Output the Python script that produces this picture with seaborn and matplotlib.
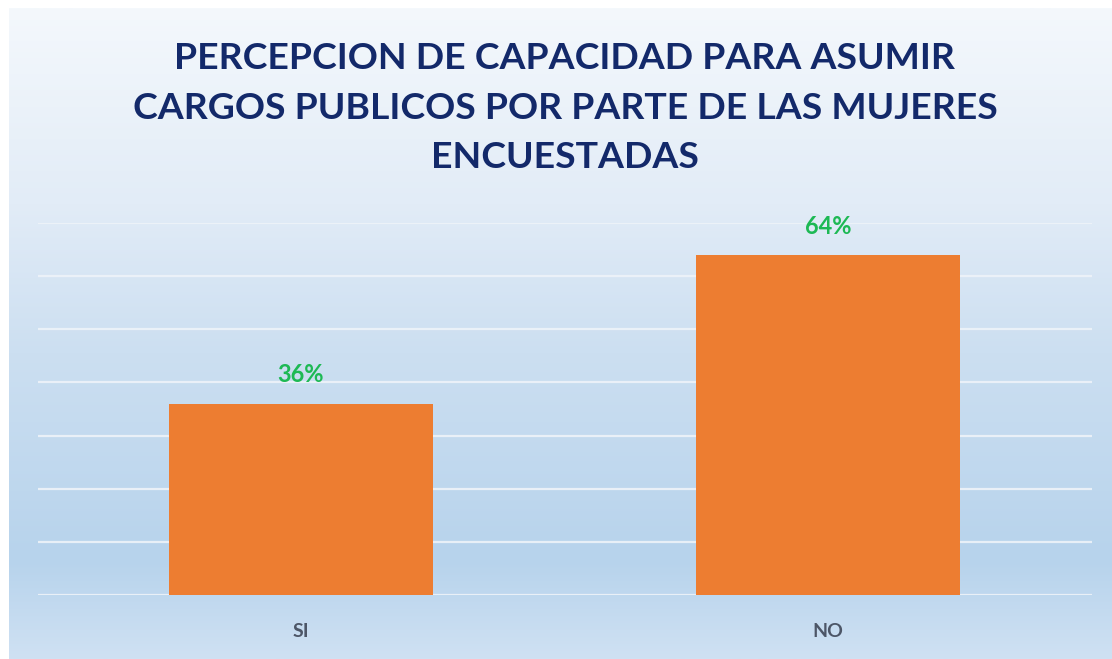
import numpy as np
import pandas as pd
import seaborn as sns
import matplotlib.pyplot as plt
from matplotlib.colors import LinearSegmentedColormap

# data
categories = ["SI", "NO"]
values = [0.36, 0.64]
labels = ["36%", "64%"]

title = "PERCEPCION DE CAPACIDAD PARA ASUMIR\nCARGOS PUBLICOS POR PARTE DE LAS MUJERES\nENCUESTADAS"

sns.set_theme(style="white")
plt.rcParams['font.family'] = ['Lato', 'DejaVu Sans']

df = pd.DataFrame({"respuesta": categories, "valor": values})

fig = plt.figure(figsize=(11.12, 6.59), dpi=100)
fig.patch.set_facecolor("white")

# gradient background like the Excel chart area
bg = fig.add_axes([9 / 1112, 0, 1 - 9 / 1112, 651 / 659], zorder=0)
grad_cmap = LinearSegmentedColormap.from_list(
    "bg",
    [(0.0, "#F4F8FC"), (0.30, "#E2ECF7"), (0.53, "#CCDFF1"),
     (0.85, "#B7D3EC"), (1.0, "#CFE1F3")])
bg.imshow(np.linspace(0, 1, 256).reshape(-1, 1), aspect="auto", cmap=grad_cmap,
          extent=[0, 1, 0, 1])
bg.axis("off")

ax = fig.add_axes([37.5 / 1112, 64 / 659, 1054 / 1112, 372 / 659], zorder=1)
ax.patch.set_alpha(0)

sns.barplot(data=df, x="respuesta", y="valor", color="#ED7D31", width=0.5,
            saturation=1, linewidth=0, ax=ax, zorder=3)

ax.set_ylim(0, 0.7)
ax.set_yticks(np.arange(0, 0.71, 0.1))
ax.yaxis.grid(True, color="#EEF3F9", linewidth=1.6, alpha=0.9)
ax.set_axisbelow(True)
ax.tick_params(axis="y", left=False, labelleft=False)
ax.tick_params(axis="x", bottom=False, pad=14)
for s in ax.spines.values():
    s.set_visible(False)
ax.set_xlabel("")
ax.set_ylabel("")

for t in ax.get_xticklabels():
    t.set_fontsize(14)
    t.set_fontweight("bold")
    t.set_color("#4D5667")

for bar, lab in zip(ax.patches, labels):
    ax.text(bar.get_x() + bar.get_width() / 2, bar.get_height() + 0.054, lab,
            ha="center", va="center", fontsize=17, fontweight="bold",
            color="#1DB954", zorder=4)

fig.text(0.508, 0.836, title, ha="center", va="center", fontsize=26.9,
         fontweight="bold", color="#13296A", linespacing=1.6)

fig.savefig("out.png", dpi=100)
